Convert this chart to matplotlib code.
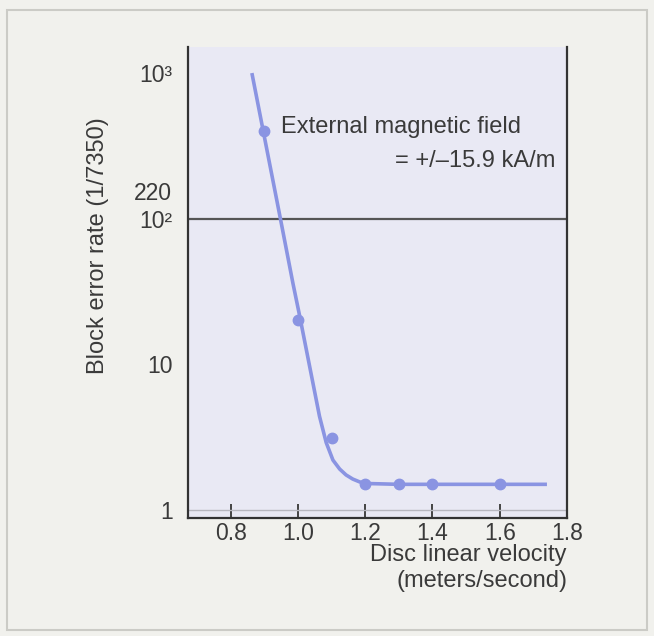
import matplotlib.pyplot as plt
from matplotlib.patches import Rectangle

# measured points (disc linear velocity m/s, block error rate)
velocity = [0.9, 1.0, 1.1, 1.2, 1.3, 1.4, 1.6]
error_rate = [400, 20, 3.1, 1.5, 1.5, 1.5, 1.5]

# hand-drawn fit curve
curve_v = [0.864, 0.90, 0.95, 0.985, 1.005, 1.035, 1.064, 1.084, 1.104,
           1.124, 1.143, 1.163, 1.183, 1.203, 1.30, 1.50, 1.735]
curve_e = [970, 365, 94, 36, 21.5, 9.6, 4.4, 2.9, 2.2,
           1.91, 1.74, 1.63, 1.56, 1.52, 1.5, 1.5, 1.5]

x_ticks = [0.8, 1.0, 1.2, 1.4, 1.6, 1.8]
x_labels = ['0.8', '1.0', '1.2', '1.4', '1.6', '1.8']
y_ticks = [1, 10, 100, 1000]
y_labels = ['1', '10', '10²', '10³']
limit_label = '220'
limit_line = 100

plt.rcParams['font.family'] = ['Liberation Sans', 'DejaVu Sans']
txt = '#3a3a3a'
blue = '#8a94e2'

fig = plt.figure(figsize=(6.54, 6.36), dpi=100, facecolor='#f1f1ed')
fig.patches.append(Rectangle((7 / 654, 1 - 630 / 636), 640 / 654, 620 / 636,
                             transform=fig.transFigure, fill=False,
                             edgecolor='#cbcbc6', linewidth=1.5))

ax = fig.add_axes([188 / 654, 1 - 518 / 636, 379 / 654, 471 / 636])
ax.set_facecolor('#e9e9f4')
ax.set_yscale('log')
ax.set_xlim(0.673, 1.796)
ax.set_ylim(0.881, 1506)

ax.axhline(1, color='#b8b8c0', linewidth=1)
ax.axhline(limit_line, color='#555555', linewidth=1.6)

ax.plot(curve_v, curve_e, color=blue, linewidth=2.6, solid_joinstyle='round')
ax.plot(velocity, error_rate, 'o', color=blue, markersize=7.5)

ax.set_xticks(x_ticks)
ax.set_xticklabels(x_labels)
ax.set_yticks(y_ticks)
ax.set_yticklabels(y_labels)
ax.minorticks_off()
ax.tick_params(axis='x', direction='in', length=10, width=1.4, color='#444444',
               labelsize=16.5, labelcolor=txt, pad=3)
ax.tick_params(axis='y', length=0, labelsize=16.5, labelcolor=txt, pad=11)

for side in ['left', 'right', 'bottom']:
    ax.spines[side].set_color('#333333')
    ax.spines[side].set_linewidth(1.6)
ax.spines['top'].set_visible(False)

# the limit value sits just above the 10^2 label
fig.text(172 / 654, 1 - 194 / 636, limit_label, ha='right', va='center',
         fontsize=16.5, color=txt)

ax.text(0.949, 425, 'External magnetic field', ha='left', va='center',
        fontsize=17, color=txt)
ax.text(1.764, 250, '= +/\u201315.9 kA/m', ha='right', va='center',
        fontsize=17, color=txt)

fig.text(98 / 654, 1 - 246 / 636, 'Block error rate (1/7350)', rotation=90,
         ha='center', va='center', fontsize=17, color=txt)
fig.text(567 / 654, 1 - 568 / 636, 'Disc linear velocity\n(meters/second)',
         ha='right', va='center', multialignment='right', fontsize=17, color=txt)

fig.savefig('out.png', dpi=100, facecolor=fig.get_facecolor())
